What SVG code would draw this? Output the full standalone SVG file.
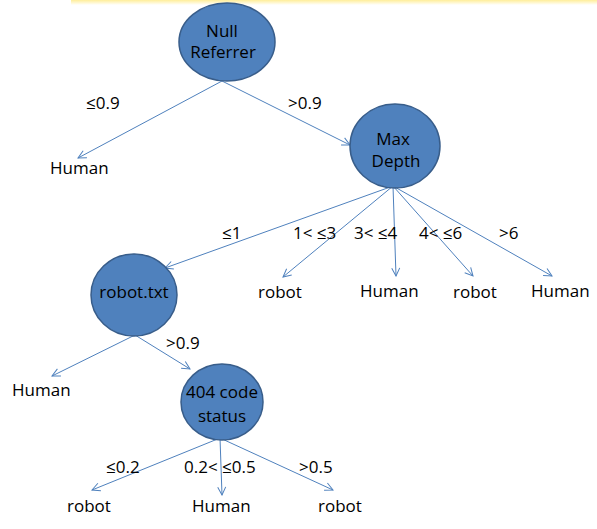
<svg xmlns="http://www.w3.org/2000/svg" width="597" height="529" viewBox="0 0 597 529">
<defs>
<linearGradient id="band" x1="0" y1="0" x2="0" y2="1">
<stop offset="0" stop-color="#FFEE99"/>
<stop offset="1" stop-color="#FFFFFF"/>
</linearGradient>
<marker id="arr" viewBox="0 0 10 10" refX="9" refY="5" markerWidth="10" markerHeight="10" markerUnits="userSpaceOnUse" orient="auto">
<path d="M1,1 L9,5 L1,9" fill="none" stroke="#4F81BD" stroke-width="1"/>
</marker>
<style>
.node ellipse{fill:#4F81BD;stroke:#385D8A;stroke-width:1.5}
text{font-family:"Open Sans","Liberation Sans",sans-serif;font-size:17px;fill:#000}
.c{text-anchor:middle}
#connectors line{stroke:#4F81BD;stroke-width:1;marker-end:url(#arr)}
</style>
</defs>
<rect x="71" y="0" width="526" height="5" fill="url(#band)"/>
<g id="connectors">
<line x1="222" y1="81" x2="78" y2="158"/>
<line x1="222" y1="81" x2="350" y2="145"/>
<line x1="393" y1="186" x2="165" y2="268"/>
<line x1="393" y1="186" x2="283" y2="277"/>
<line x1="393" y1="186" x2="396" y2="276"/>
<line x1="393" y1="186" x2="473" y2="276"/>
<line x1="393" y1="186" x2="552" y2="276"/>
<line x1="135" y1="335" x2="52" y2="376"/>
<line x1="135" y1="335" x2="190" y2="369"/>
<line x1="220" y1="438" x2="92" y2="490"/>
<line x1="220" y1="438" x2="222" y2="495"/>
<line x1="220" y1="438" x2="333" y2="490"/>
</g>
<g id="n-null" class="node">
<ellipse cx="227" cy="42" rx="48" ry="39"/>
<text class="c" x="222" y="37">Null</text>
<text class="c" x="223" y="58">Referrer</text>
</g>
<g id="n-maxdepth" class="node">
<ellipse cx="395" cy="146" rx="45" ry="42"/>
<text class="c" x="393" y="145">Max</text>
<text class="c" x="396" y="167">Depth</text>
</g>
<g id="n-robottxt" class="node">
<ellipse cx="134" cy="295" rx="43" ry="41"/>
<text class="c" x="134" y="298">robot.txt</text>
</g>
<g id="n-404" class="node">
<ellipse cx="222" cy="402" rx="41" ry="38"/>
<text class="c" x="222" y="398">404 code</text>
<text class="c" x="222" y="422">status</text>
</g>
<g id="labels">
<text x="86" y="109">≤0.9</text>
<text x="288" y="109">&gt;0.9</text>
<text x="222" y="239">≤1</text>
<text x="293" y="239">1&lt; ≤3</text>
<text x="354" y="239">3&lt; ≤4</text>
<text x="419" y="239">4&lt; ≤6</text>
<text x="499" y="239">&gt;6</text>
<text x="166" y="349">&gt;0.9</text>
<text x="106" y="473">≤0.2</text>
<text x="184" y="473">0.2&lt; ≤0.5</text>
<text x="299" y="473">&gt;0.5</text>
</g>
<g id="leaves">
<text x="50" y="174">Human</text>
<text x="258" y="298">robot</text>
<text x="360" y="297">Human</text>
<text x="453" y="298">robot</text>
<text x="531" y="297">Human</text>
<text x="12" y="396">Human</text>
<text x="67" y="512">robot</text>
<text x="192" y="512">Human</text>
<text x="318" y="512">robot</text>
</g>
</svg>
